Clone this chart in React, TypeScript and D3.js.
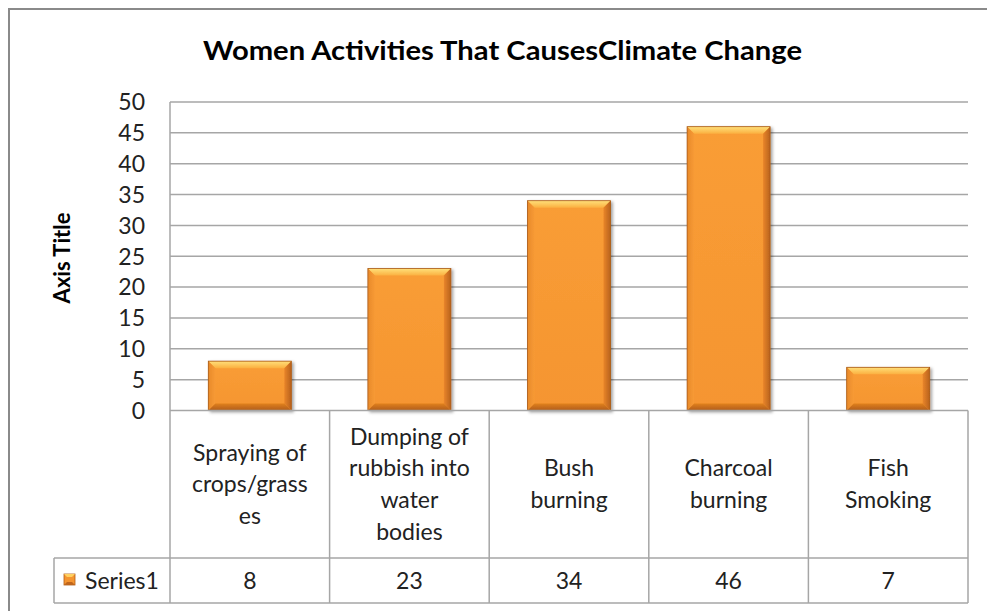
import React from "react";
import * as d3 from "d3";

const categories: string[][] = [
  ["Spraying of", "crops/grass", "es"],
  ["Dumping of", "rubbish into", "water", "bodies"],
  ["Bush", "burning"],
  ["Charcoal", "burning"],
  ["Fish", "Smoking"],
];
const categoryKeys = ["Spraying of crops/grasses", "Dumping of rubbish into water bodies", "Bush burning", "Charcoal burning", "Fish Smoking"];
const series1 = [8, 23, 34, 46, 7];
const yTicks = [0, 5, 10, 15, 20, 25, 30, 35, 40, 45, 50];
const seriesName = "Series1";
const title = "Women Activities That CausesClimate Change";
const axisTitle = "Axis Title";

const W = 987, H = 611;
const plotL = 170, plotR = 968, plotT = 102, plotB = 410.5;
const tableRow1B = 558, tableRow2B = 603, legendL = 54;
const font = "Lato, 'Open Sans', sans-serif";
const gridColor = "#a6a6a6";

export default function App() {
  const x = d3.scaleBand<string>().domain(categoryKeys).range([plotL, plotR]).padding(0);
  const y = d3.scaleLinear().domain([0, 50]).range([plotB, plotT]);
  const barW = x.bandwidth() * 0.52;
  const b = 7;
  const lineH = 31.7;
  const rowMid = (plotB + tableRow1B) / 2;

  return (
    <svg width={W} height={H} style={{ position: "absolute", left: 0, top: 0, background: "#fff" }}>
      <defs>
        <linearGradient id="topG" x1="0" y1="0" x2="0" y2="1">
          <stop offset="0" stopColor="#ffe07a" />
          <stop offset="1" stopColor="#fbb040" />
        </linearGradient>
        <linearGradient id="leftG" x1="0" y1="0" x2="1" y2="0">
          <stop offset="0" stopColor="#e88a2a" />
          <stop offset="1" stopColor="#f79a35" />
        </linearGradient>
        <linearGradient id="rightG" x1="0" y1="0" x2="1" y2="0">
          <stop offset="0" stopColor="#e9852a" />
          <stop offset="1" stopColor="#b8621c" />
        </linearGradient>
        <linearGradient id="botG" x1="0" y1="0" x2="0" y2="1">
          <stop offset="0" stopColor="#e0801f" />
          <stop offset="1" stopColor="#b05c18" />
        </linearGradient>
        <linearGradient id="mainG" x1="0" y1="0" x2="0" y2="1">
          <stop offset="0" stopColor="#f99d36" />
          <stop offset="1" stopColor="#f59530" />
        </linearGradient>
        <filter id="shadow" x="-10%" y="-10%" width="130%" height="130%">
          <feDropShadow dx="2" dy="1.5" stdDeviation="1.5" floodColor="#000" floodOpacity="0.35" />
        </filter>
      </defs>

      {/* outer chart border */}
      <rect x={9} y={9} width={1000} height={640} fill="#fff" stroke="#8a8a8a" strokeWidth={2} />

      {/* title */}
      <text x={502.5} y={60} textAnchor="middle" fontFamily={font} fontWeight="bold" fontSize={27} fill="#000" textLength={599} lengthAdjust="spacingAndGlyphs">
        {title}
      </text>

      {/* gridlines */}
      {yTicks.filter((t) => t > 0).map((t) => (
        <line key={t} x1={plotL} x2={plotR} y1={y(t)} y2={y(t)} stroke={gridColor} strokeWidth={1.5} />
      ))}

      {/* y tick labels */}
      {yTicks.map((t) => (
        <text key={t} x={145} y={y(t)} dy="0.36em" textAnchor="end" fontFamily={font} fontSize={23} fill="#222">
          {t}
        </text>
      ))}

      {/* axis title */}
      <text transform={`translate(70,258) rotate(-90)`} textAnchor="middle" fontFamily={font} fontWeight="bold" fontSize={22} fill="#000">
        {axisTitle}
      </text>

      {/* bars */}
      {series1.map((v, i) => {
        const cx = (x(categoryKeys[i]) as number) + x.bandwidth() / 2;
        const x0 = cx - barW / 2, x1 = cx + barW / 2;
        const y0 = y(v), y1 = y(0);
        return (
          <g key={i} filter="url(#shadow)">
            <rect x={x0} y={y0} width={x1 - x0} height={y1 - y0} fill="url(#mainG)" />
            <polygon points={`${x0},${y0} ${x1},${y0} ${x1 - b},${y0 + b} ${x0 + b},${y0 + b}`} fill="url(#topG)" />
            <polygon points={`${x0},${y0} ${x0 + b},${y0 + b} ${x0 + b},${y1 - b} ${x0},${y1}`} fill="url(#leftG)" />
            <polygon points={`${x1},${y0} ${x1 - b},${y0 + b} ${x1 - b},${y1 - b} ${x1},${y1}`} fill="url(#rightG)" />
            <polygon points={`${x0},${y1} ${x0 + b},${y1 - b} ${x1 - b},${y1 - b} ${x1},${y1}`} fill="url(#botG)" />
            <rect x={x0} y={y0} width={x1 - x0} height={y1 - y0} fill="none" stroke="#a85a18" strokeWidth={0.8} />
          </g>
        );
      })}

      {/* table lines */}
      <line x1={plotL} x2={plotR} y1={plotB} y2={plotB} stroke={gridColor} strokeWidth={1.5} />
      <line x1={legendL} x2={plotR} y1={tableRow1B} y2={tableRow1B} stroke={gridColor} strokeWidth={1.5} />
      <line x1={legendL} x2={plotR} y1={tableRow2B} y2={tableRow2B} stroke={gridColor} strokeWidth={1.5} />
      <line x1={legendL} x2={legendL} y1={tableRow1B} y2={tableRow2B} stroke={gridColor} strokeWidth={1.5} />
      <line x1={plotL} x2={plotL} y1={plotT} y2={tableRow2B} stroke={gridColor} strokeWidth={1.5} />
      {categoryKeys.map((k) => {
        const xr = (x(k) as number) + x.bandwidth();
        return <line key={k} x1={xr} x2={xr} y1={plotB} y2={tableRow2B} stroke={gridColor} strokeWidth={1.5} />;
      })}

      {/* category labels */}
      {categories.map((lines, i) => {
        const cx = (x(categoryKeys[i]) as number) + x.bandwidth() / 2;
        const start = rowMid - ((lines.length - 1) * lineH) / 2;
        return (
          <text key={i} textAnchor="middle" fontFamily={font} fontSize={23} fill="#222">
            {lines.map((l, j) => (
              <tspan key={j} x={cx} y={start + j * lineH} dy="0.35em">
                {l}
              </tspan>
            ))}
          </text>
        );
      })}

      {/* legend key */}
      <g>
        <rect x={64} y={574} width={11} height={11} fill="#f59530" stroke="#b05c18" strokeWidth={0.8} />
        <polygon points={`64,574 75,574 72,577 67,577`} fill="#ffd060" />
        <polygon points={`64,585 67,582 72,582 75,585`} fill="#c0661c" />
      </g>
      <text x={85} y={580.5} dy="0.35em" fontFamily={font} fontSize={23} fill="#222">
        {seriesName}
      </text>

      {/* values */}
      {series1.map((v, i) => (
        <text key={i} x={(x(categoryKeys[i]) as number) + x.bandwidth() / 2} y={580.5} dy="0.35em" textAnchor="middle" fontFamily={font} fontSize={23} fill="#222">
          {v}
        </text>
      ))}
    </svg>
  );
}
